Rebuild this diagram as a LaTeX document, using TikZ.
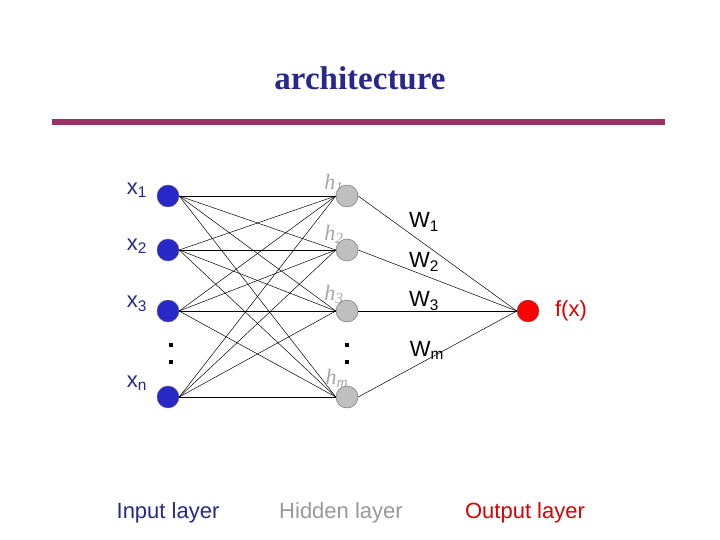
\documentclass[tikz,border=0pt]{standalone}
\usepackage{fontspec}
\setmainfont{Liberation Sans}
\newfontfamily\ttl{Liberation Serif}
\definecolor{nav}{RGB}{40,40,140}
\begin{document}
\begin{tikzpicture}[x=1pt,y=-1pt,
 inn/.style={circle,draw=black!60,fill={rgb,255:red,40;green,40;blue,200},minimum size=22pt,inner sep=0pt},
 hid/.style={circle,draw=black!60,fill=black!25,minimum size=22pt,inner sep=0pt},
 outn/.style={circle,draw=black!60,fill=red,minimum size=22pt,inner sep=0pt},
 lbl/.style={font=\fontsize{22}{22}\selectfont},
 hl/.style={font=\fontsize{22}{22}\selectfont\itshape\ttl,text=black!35},
 ln/.style={line width=0.5pt},
 dot/.style={rectangle,fill=black,inner sep=0pt,minimum size=4.5pt}]
\useasboundingbox (0,0) rectangle (720,540);
\node[font=\fontsize{33}{33}\selectfont\ttl\bfseries,text=nav] (title) at (360,78) {architecture};
\fill[color={rgb,255:red,153;green,51;blue,102}] (52,119) rectangle (665,125);
\node[hl] (lh1) at (334,183) {h\textsubscript{1}};
\node[hl] (lh2) at (334,234) {h\textsubscript{2}};
\node[hl] (lh3) at (334,294) {h\textsubscript{3}};
\node[hl] (lhm) at (337,378) {h\textsubscript{m}};
\foreach \n/\y in {1/196,2/250,3/311,n/397}{\node[inn] (x\n) at (168,\y) {};}
\foreach \n/\y in {1/196,2/250,3/311,m/397}{\node[hid] (h\n) at (347,\y) {};}
\node[outn] (o) at (528,311) {};
\foreach \a in {1,2,3,n}{\foreach \b in {1,2,3,m}{\draw[ln] (x\a.east) -- (h\b.west);}}
\foreach \b in {1,2,3,m}{\draw[ln] (h\b.east) -- (o.west);}
\node[lbl,text=nav] (lx1) at (137,190) {x\textsubscript{1}};
\node[lbl,text=nav] (lx2) at (137,246) {x\textsubscript{2}};
\node[lbl,text=nav] (lx3) at (137,304) {x\textsubscript{3}};
\node[lbl,text=nav] (lxn) at (137,383) {x\textsubscript{n}};
\node[dot] (d1) at (171,345) {}; \node[dot] (d2) at (171,362) {};
\node[dot] (d3) at (347,345) {}; \node[dot] (d4) at (347,362) {};
\node[lbl] (w1) at (424,222) {W\textsubscript{1}};
\node[lbl] (w2) at (424,262) {W\textsubscript{2}};
\node[lbl] (w3) at (424,301) {W\textsubscript{3}};
\node[lbl] (wm) at (427,350) {W\textsubscript{m}};
\node[lbl,text=red!85!black] (fx) at (571,311) {f(x)};
\node[lbl,text=nav] (il) at (168,513) {Input layer};
\node[lbl,text=black!40] (hlay) at (341,513) {Hidden layer};
\node[lbl,text=red!85!black] (ol) at (525,513) {Output layer};
\end{tikzpicture}
\end{document}
